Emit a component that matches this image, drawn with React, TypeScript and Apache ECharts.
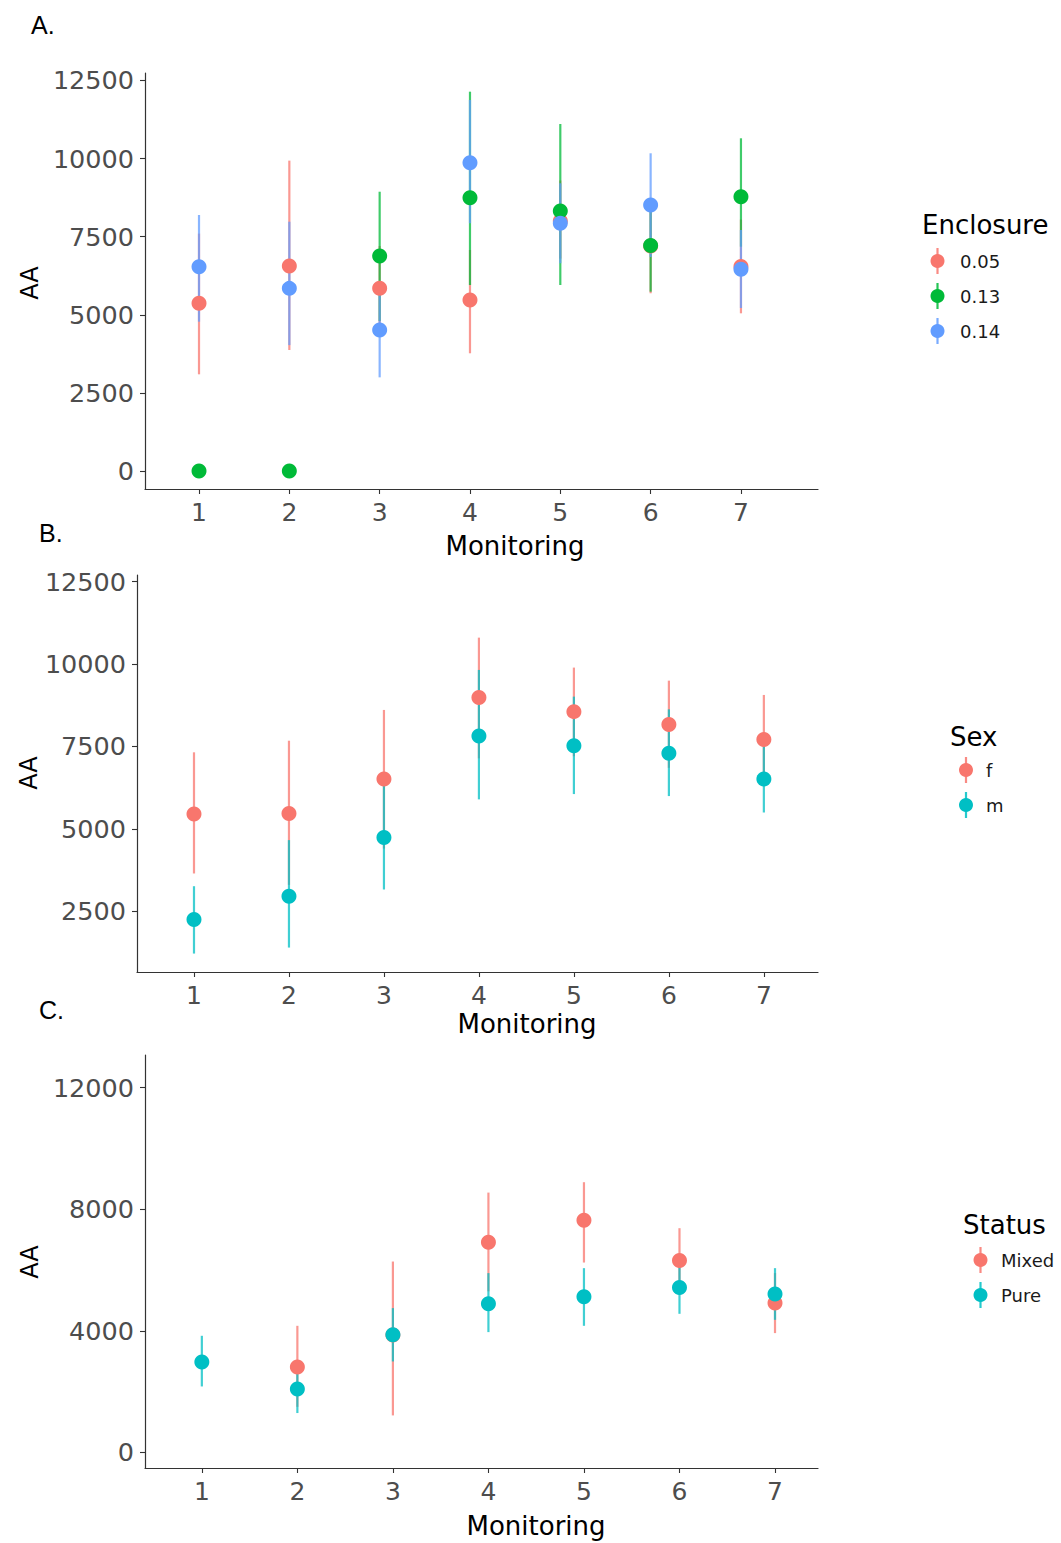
import React, { useEffect, useRef } from "react";
import * as echarts from "echarts";

// ---------- data ----------
const monitoring = [1, 2, 3, 4, 5, 6, 7];

// Panel A: Enclosure
const encLabels = ["0.05", "0.13", "0.14"];
const enc005Mean = [5370, 6560, 5850, 5470, 8000, 7200, 6550];
const enc005Low = [3095, 3873, 4500, 3768, 6800, 5690, 5048];
const enc005High = [7600, 9935, 7200, 7074, 9300, 8700, 8050];
const enc013Mean = [0, 0, 6880, 8750, 8320, 7220, 8780];
const enc013Low = [null, null, 4800, 5954, 5954, 5740, 7180];
const enc013High = [null, null, 8940, 12142, 11107, 8700, 10650];
const enc014Mean = [6540, 5846, 4513, 9870, 7930, 8515, 6456];
const enc014Low = [4780, 4030, 2998, 7930, 6650, 6850, 5218];
const enc014High = [8195, 7980, 6000, 11876, 9210, 10170, 7715];

// Panel B: Sex
const sexLabels = ["f", "m"];
const fMean = [5447, 5468, 6510, 8980, 8555, 8168, 7713];
const fLow = [3645, 3300, 4400, 7138, 7200, 6850, 6400];
const fHigh = [7321, 7673, 8606, 10800, 9891, 9495, 9061];
const mMean = [2248, 2955, 4738, 7816, 7520, 7290, 6510];
const mLow = [1215, 1397, 3159, 5893, 6054, 5993, 5495];
const mHigh = [3259, 4657, 6300, 9820, 9010, 8624, 7600];

// Panel C: Status
const statusLabels = ["Mixed", "Pure"];
const mixedMean = [null, 2807, 3860, 6917, 7640, 6313, 4912];
const mixedLow = [null, 1500, 1217, 5300, 6247, 5250, 3925];
const mixedHigh = [null, 4165, 6280, 8548, 8890, 7377, 5900];
const pureMean = [2972, 2084, 3870, 4889, 5119, 5425, 5208];
const pureLow = [2170, 1295, 2992, 3958, 4165, 4560, 4362];
const pureHigh = [3837, 2900, 4747, 5898, 6062, 6115, 6062];

const yTicksAB = [2500, 5000, 7500, 10000, 12500];
const yTicksA = [0, ...yTicksAB];
const yTicksC = [0, 4000, 8000, 12000];

// ---------- styling ----------
const RED = "#F8766D";
const GREEN = "#00BA38";
const BLUE = "#619CFF";
const CYAN = "#00BFC4";
const FONT = "DejaVu Sans";

type Group = { color: string; mean: (number | null)[]; low: (number | null)[]; high: (number | null)[] };

const panels = [
  {
    grid: { left: 145, top: 73, width: 673, height: 416 },
    xMin: 0.402, xMax: 7.853, yMin: -576, yMax: 12740, yTicks: yTicksA,
    groups: [
      { color: RED, mean: enc005Mean, low: enc005Low, high: enc005High },
      { color: GREEN, mean: enc013Mean, low: enc013Low, high: enc013High },
      { color: BLUE, mean: enc014Mean, low: enc014Low, high: enc014High },
    ] as Group[],
  },
  {
    grid: { left: 137, top: 575, width: 681, height: 397 },
    xMin: 0.4, xMax: 7.57, yMin: 656, yMax: 12700, yTicks: yTicksAB,
    groups: [
      { color: RED, mean: fMean, low: fLow, high: fHigh },
      { color: CYAN, mean: mMean, low: mLow, high: mHigh },
    ] as Group[],
  },
  {
    grid: { left: 145, top: 1055, width: 673, height: 413 },
    xMin: 0.405, xMax: 7.45, yMin: -513, yMax: 13075, yTicks: yTicksC,
    groups: [
      { color: RED, mean: mixedMean, low: mixedLow, high: mixedHigh },
      { color: CYAN, mean: pureMean, low: pureLow, high: pureHigh },
    ] as Group[],
  },
];

const legends = [
  { title: "Enclosure", tx: 922, ty: 225, kx: 937.5, lx: 960, ys: [261, 296, 331], labels: encLabels, colors: [RED, GREEN, BLUE] },
  { title: "Sex", tx: 950, ty: 737, kx: 966, lx: 986, ys: [770, 805], labels: sexLabels, colors: [RED, CYAN] },
  { title: "Status", tx: 963, ty: 1225, kx: 980.5, lx: 1001, ys: [1260, 1295], labels: statusLabels, colors: [RED, CYAN] },
];

const panelTags = [
  { text: "A.", x: 31, y: 25 },
  { text: "B.", x: 39, y: 533 },
  { text: "C.", x: 39, y: 1010 },
];
const xTitles = [
  { x: 515, y: 546 },
  { x: 527, y: 1024 },
  { x: 536, y: 1526 },
];
const yTitles = [
  { x: 30, y: 283 },
  { x: 29, y: 773 },
  { x: 30, y: 1262 },
];

export default function App() {
  const ref = useRef<HTMLDivElement>(null);
  useEffect(() => {
    if (!ref.current) return;
    const chart = echarts.init(ref.current, undefined, { renderer: "svg" });

    const grids: any[] = [];
    const xAxes: any[] = [];
    const yAxes: any[] = [];
    const series: any[] = [];

    panels.forEach((p, i) => {
      grids.push({ ...p.grid, containLabel: false });
      const axisLine = { show: true, lineStyle: { color: "#333333", width: 1.2 } };
      const axisTickBase = { show: true, length: 5, lineStyle: { color: "#333333", width: 1.1 } };
      xAxes.push({
        type: "value", gridIndex: i, min: p.xMin, max: p.xMax,
        axisLine: { ...axisLine, onZero: false },
        axisTick: { ...axisTickBase, customValues: monitoring },
        axisLabel: { customValues: monitoring, formatter: (v: number) => String(v), fontSize: 25, fontFamily: FONT, color: "#4d4d4d", margin: 11 },
        splitLine: { show: false },
      });
      yAxes.push({
        type: "value", gridIndex: i, min: p.yMin, max: p.yMax,
        axisLine: { ...axisLine, onZero: false },
        axisTick: { ...axisTickBase, customValues: p.yTicks },
        axisLabel: { customValues: p.yTicks, formatter: (v: number) => String(v), fontSize: 25.5, fontFamily: FONT, color: "#4d4d4d", margin: 11 },
        splitLine: { show: false },
      });
      // error bars first (all groups), then points
      p.groups.forEach((g) => {
        const data: number[][] = [];
        monitoring.forEach((m, k) => {
          const lo = g.low[k];
          const hi = g.high[k];
          if (lo != null && hi != null) data.push([m, lo, hi]);
        });
        series.push({
          type: "custom", xAxisIndex: i, yAxisIndex: i, z: 2,
          encode: { x: 0, y: [1, 2] },
          data,
          renderItem: (_params: any, api: any) => {
            const x = api.value(0);
            const p1 = api.coord([x, api.value(1)]);
            const p2 = api.coord([x, api.value(2)]);
            return {
              type: "line",
              shape: { x1: p1[0], y1: p1[1], x2: p2[0], y2: p2[1] },
              style: { stroke: g.color, lineWidth: 2.2, opacity: 0.75 },
            };
          },
        });
      });
      p.groups.forEach((g) => {
        const data: number[][] = [];
        monitoring.forEach((m, k) => {
          const v = g.mean[k];
          if (v != null) data.push([m, v]);
        });
        series.push({
          type: "scatter", xAxisIndex: i, yAxisIndex: i, z: 3,
          symbol: "circle", symbolSize: 15,
          itemStyle: { color: g.color, opacity: 1 },
          data,
        });
      });
    });

    const graphics: any[] = [];
    panelTags.forEach((t) => {
      graphics.push({
        type: "text", x: t.x, y: t.y,
        style: { text: t.text, fontSize: 25, fontFamily: "Liberation Sans", fill: "#000", align: "left", verticalAlign: "middle" },
      });
    });
    xTitles.forEach((t) => {
      graphics.push({
        type: "text", x: t.x, y: t.y,
        style: { text: "Monitoring", fontSize: 26, fontFamily: FONT, fill: "#000", align: "center", verticalAlign: "middle" },
      });
    });
    yTitles.forEach((t) => {
      graphics.push({
        type: "text", x: t.x, y: t.y, rotation: Math.PI / 2,
        style: { text: "AA", fontSize: 24, fontFamily: FONT, fill: "#000", align: "center", verticalAlign: "middle" },
      });
    });
    legends.forEach((L) => {
      graphics.push({
        type: "text", x: L.tx, y: L.ty,
        style: { text: L.title, fontSize: 26, fontFamily: FONT, fill: "#000", align: "left", verticalAlign: "middle" },
      });
      L.ys.forEach((yy, k) => {
        graphics.push({
          type: "line",
          shape: { x1: L.kx, y1: yy - 13, x2: L.kx, y2: yy + 13 },
          style: { stroke: L.colors[k], lineWidth: 2.2, opacity: 0.85 },
        });
        graphics.push({
          type: "circle",
          shape: { cx: L.kx, cy: yy, r: 7 },
          style: { fill: L.colors[k] },
        });
        graphics.push({
          type: "text", x: L.lx, y: yy,
          style: { text: L.labels[k], fontSize: 18, fontFamily: FONT, fill: "#1a1a1a", align: "left", verticalAlign: "middle" },
        });
      });
    });

    chart.setOption({
      animation: false,
      backgroundColor: "#ffffff",
      grid: grids,
      xAxis: xAxes,
      yAxis: yAxes,
      series,
      graphic: graphics,
    });
    return () => chart.dispose();
  }, []);

  return (
    <div
      ref={ref}
      style={{ position: "absolute", left: 0, top: 0, width: 1061, height: 1543 }}
    />
  );
}
